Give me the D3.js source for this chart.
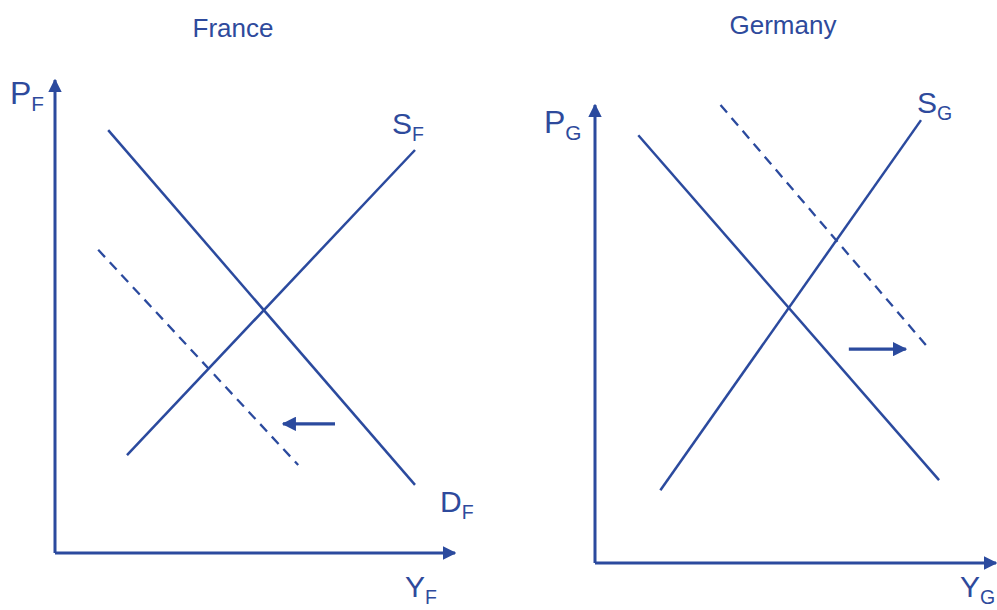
<!DOCTYPE html>
<html>
<head>
<meta charset="utf-8">
<script src="https://cdnjs.cloudflare.com/ajax/libs/d3/7.8.5/d3.min.js"></script>
<style>
body { margin: 0; background: #fff; }
text { font-family: "Liberation Sans", Arial, sans-serif; fill: #2e4a9c; }
</style>
</head>
<body>
<svg id="canvas" width="997" height="610"></svg>
<script>
// data in axis units (0..10 on each axis)
var franceSupply = [[1.8, 2.07], [9.0, 8.52]];
var franceDemand = [[1.33, 8.94], [9.0, 1.44]];
var franceShifted = [[1.08, 6.41], [6.08, 1.86]];
var franceShift = [[7.0, 2.73], [5.7, 2.73]];

var germanySupply = [[1.63, 1.59], [8.13, 9.67]];
var germanyDemand = [[1.08, 9.34], [8.58, 1.81]];
var germanyShifted = [[3.13, 10.0], [8.25, 4.76]];
var germanyShift = [[6.33, 4.67], [7.75, 4.67]];

var panelTitles = ["France", "Germany"];
var subs = ["F", "G"];

var blue = "#2b4a9e";
var svg = d3.select("#canvas");

var defs = svg.append("defs");
defs.append("marker").attr("id", "head")
    .attr("viewBox", "0 0 10 10").attr("refX", 9).attr("refY", 5)
    .attr("markerWidth", 4.5).attr("markerHeight", 4.5)
    .attr("markerUnits", "strokeWidth").attr("orient", "auto")
  .append("path").attr("d", "M0,0 L10,5 L0,10 Z").attr("fill", blue);

var panels = [
  { x0: 55, x1: 455, y0: 553, y1: 80, titleX: 233, titleY: 37,
    supply: franceSupply, demand: franceDemand, shifted: franceShifted, shift: franceShift,
    pLab: [10, 104], sLab: [392, 134], dLab: [440, 512], yLab: [405, 597] },
  { x0: 595, x1: 996, y0: 563, y1: 105, titleX: 783, titleY: 34,
    supply: germanySupply, demand: germanyDemand, shifted: germanyShifted, shift: germanyShift,
    pLab: [544, 133], sLab: [917, 113], dLab: null, yLab: [960, 597] }
];

function sub(g, pos, main, s, size) {
  var t = g.append("text").attr("x", pos[0]).attr("y", pos[1]).style("font-size", size + "px");
  t.append("tspan").text(main);
  t.append("tspan").attr("dy", size * 0.22).style("font-size", (size * 0.65) + "px").text(s);
}

panels.forEach(function(p, i) {
  var x = d3.scaleLinear().domain([0, 10]).range([p.x0, p.x1]);
  var y = d3.scaleLinear().domain([0, 10]).range([p.y0, p.y1]);
  var line = d3.line().x(function(d) { return x(d[0]); }).y(function(d) { return y(d[1]); });
  var g = svg.append("g");

  g.append("text").attr("x", p.titleX).attr("y", p.titleY).attr("text-anchor", "middle")
    .style("font-size", "26px").text(panelTitles[i]);

  // axes
  g.append("path").attr("d", line([[0, 0], [0, 10]])).attr("stroke", blue)
    .attr("stroke-width", 3).attr("fill", "none").attr("marker-end", "url(#head)");
  g.append("path").attr("d", line([[0, 0], [10, 0]])).attr("stroke", blue)
    .attr("stroke-width", 3).attr("fill", "none").attr("marker-end", "url(#head)");

  g.append("path").attr("d", line(p.supply)).attr("stroke", blue).attr("stroke-width", 2.5).attr("fill", "none");
  g.append("path").attr("d", line(p.demand)).attr("stroke", blue).attr("stroke-width", 2.5).attr("fill", "none");
  g.append("path").attr("d", line(p.shifted)).attr("stroke", blue).attr("stroke-width", 2.3)
    .attr("stroke-dasharray", "10,7").attr("fill", "none");
  g.append("path").attr("d", line(p.shift)).attr("stroke", blue).attr("stroke-width", 3.2)
    .attr("fill", "none").attr("marker-end", "url(#head)");

  sub(g, p.pLab, "P", subs[i], 32);
  sub(g, p.sLab, "S", subs[i], 30);
  if (p.dLab) sub(g, p.dLab, "D", subs[i], 30);
  sub(g, p.yLab, "Y", subs[i], 30);
});
</script>
</body>
</html>
